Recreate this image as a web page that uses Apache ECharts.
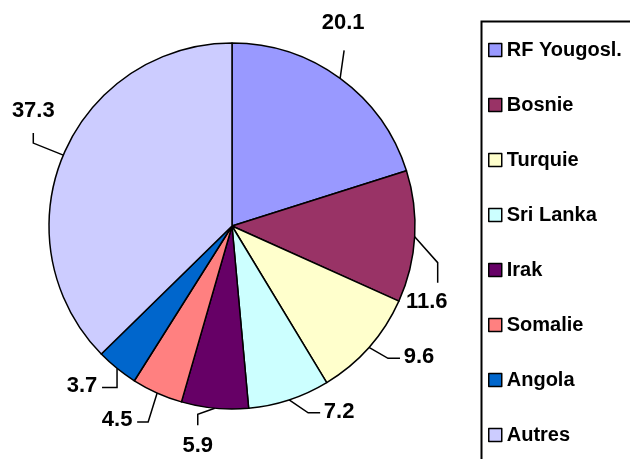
<!DOCTYPE html>
<html>
<head>
<meta charset="utf-8">
<script src="https://cdn.jsdelivr.net/npm/echarts@6/dist/echarts.min.js"></script>
<style>
  html, body { margin: 0; padding: 0; background: #fff; }
  #chart { width: 630px; height: 459px; }
</style>
</head>
<body>
<div id="chart"></div>
<script>
// données du graphique
const categories = ['RF Yougosl.', 'Bosnie', 'Turquie', 'Sri Lanka', 'Irak', 'Somalie', 'Angola', 'Autres']
const values = [20.1, 11.6, 9.6, 7.2, 5.9, 4.5, 3.7, 37.3]
const colors = ['#9999FF', '#993366', '#FFFFCC', '#CCFFFF', '#660066', '#FF8080', '#0066CC', '#CCCCFF']

// tracé des lignes de rappel : coude, fin de ligne, centre de l'étiquette (décalages depuis le bord du secteur)
const guides = [
  [[2, -14], [4, -28], [3, -55]],
  [[23, 26], [23, 46], [12, 65]],
  [[19, 11], [31, 11], [50, 10]],
  [[19, 13], [31, 13], [50, 12]],
  [[-17, 6], [-17, 17], [-17, 38]],
  [[-9, 29], [-20, 29], [-40, 27]],
  [[0, 19], [-15, 19], [-35, 18]],
  [[-30, -12], [-30, -22], [-30, -44]]
]

const font = 'Liberation Sans, Arial, sans-serif'

const chart = echarts.init(document.getElementById('chart'))
chart.setOption({
  animation: false,
  color: colors,
  graphic: [{
    type: 'rect',
    left: 479,
    top: 19,
    shape: { width: 200, height: 500 },
    style: { fill: 'none', stroke: '#000', lineWidth: 2 }
  }],
  legend: {
    orient: 'vertical',
    left: 488,
    top: 40,
    padding: 0,
    itemWidth: 13,
    itemHeight: 13,
    itemGap: 35,
    icon: 'rect',
    itemStyle: { borderColor: '#000', borderWidth: 1.5 },
    textStyle: { fontFamily: font, fontWeight: 'bold', fontSize: 20, color: '#000' },
    data: categories
  },
  series: [{
    type: 'pie',
    center: [232, 226],
    radius: 183,
    startAngle: 90,
    clockwise: true,
    data: categories.map((name, i) => ({ name, value: values[i] })),
    itemStyle: { borderColor: '#000', borderWidth: 1.5 },
    emphasis: { disabled: true },
    label: {
      show: true,
      formatter: p => p.value.toFixed(1),
      fontFamily: font,
      fontWeight: 'bold',
      fontSize: 22,
      color: '#000',
      overflow: 'none'
    },
    labelLine: {
      show: true,
      lineStyle: { color: '#000', width: 1.5 }
    },
    labelLayout: params => {
      const g = guides[params.dataIndex]
      const e = params.labelLinePoints[0]
      return {
        x: e[0] + g[2][0],
        y: e[1] + g[2][1],
        align: 'center',
        verticalAlign: 'middle',
        labelLinePoints: [e, [e[0] + g[0][0], e[1] + g[0][1]], [e[0] + g[1][0], e[1] + g[1][1]]]
      }
    }
  }]
})
</script>
</body>
</html>
